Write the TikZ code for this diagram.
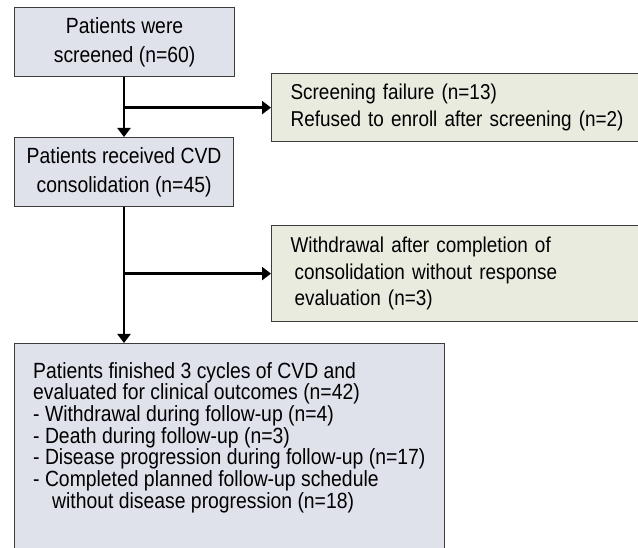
\documentclass[tikz,border=0pt]{standalone}
\usepackage{fontspec}
\setmainfont{Liberation Sans}[FakeStretch=0.88]
\usetikzlibrary{arrows.meta,positioning}
\definecolor{bluebox}{HTML}{DFE1EB}
\definecolor{greenbox}{HTML}{E8EBDE}
\definecolor{boxline}{HTML}{3C3C3C}
\tikzset{
  mainbox/.style={draw=boxline, line width=1.2pt, fill=bluebox, rectangle, anchor=north west, inner sep=0pt},
  sidebox/.style={draw=boxline, line width=1.2pt, fill=greenbox, rectangle, anchor=north west, inner sep=0pt},
  flow/.style={line width=2.6pt, -{Triangle[length=9pt,width=13pt]}},
  bigtext/.style={font=\fontsize{22}{28.5}\selectfont},
  sidetext/.style={font=\fontsize{21.5}{26.5}\selectfont},
  listtext/.style={font=\fontsize{22}{21.7}\selectfont}
}
\begin{document}
\begin{tikzpicture}[x=1pt,y=-1pt]
\useasboundingbox (0,0) rectangle (638,548);
\clip (0,0) rectangle (638,548);
\node[mainbox, bigtext, minimum width=220pt, minimum height=69pt, align=center] (box1) at (14,7)
  {Patients were\\screened (n=60)};
\node[mainbox, bigtext, minimum width=219pt, minimum height=69pt, align=center] (box2) at (14,137)
  {Patients received CVD\\consolidation (n=45)};
\node[sidebox, sidetext, minimum width=366pt, minimum height=68pt, text width=347pt, inner xsep=19pt, align=left] (scr) at (271,73)
  {Screening failure (n=13)\\Refused to enroll after screening (n=2)};
\node[sidebox, sidetext, minimum width=366pt, minimum height=96pt, text width=347pt, inner xsep=19pt, align=left] (wd) at (271,225)
  {Withdrawal after completion of\\\hspace*{4pt}consolidation without response\\\hspace*{4pt}evaluation (n=3)};
\node[mainbox, minimum width=430pt, minimum height=230pt] (bot) at (14,343) {};
\node[listtext, anchor=north west, inner sep=0pt, align=left] (bottext) at ([xshift=19pt,yshift=-19pt]bot.north west)
  {Patients finished 3 cycles of CVD and\\evaluated for clinical outcomes (n=42)\\- Withdrawal during follow-up (n=4)\\- Death during follow-up (n=3)\\- Disease progression during follow-up (n=17)\\- Completed planned follow-up schedule\\\hspace*{19pt}without disease progression (n=18)};
\coordinate (b1) at (box1.south -| 124,0);
\coordinate (j1) at (b1 |- scr.west);
\coordinate (b2) at (box2.south -| 124,0);
\coordinate (j2) at (b2 |- wd.west);
\draw[flow] (b1) -- (b1 |- box2.north);
\draw[flow] (j1) -- (scr.west);
\draw[flow] (b2) -- (b2 |- bot.north);
\draw[flow] (j2) -- (wd.west);
\end{tikzpicture}
\end{document}
